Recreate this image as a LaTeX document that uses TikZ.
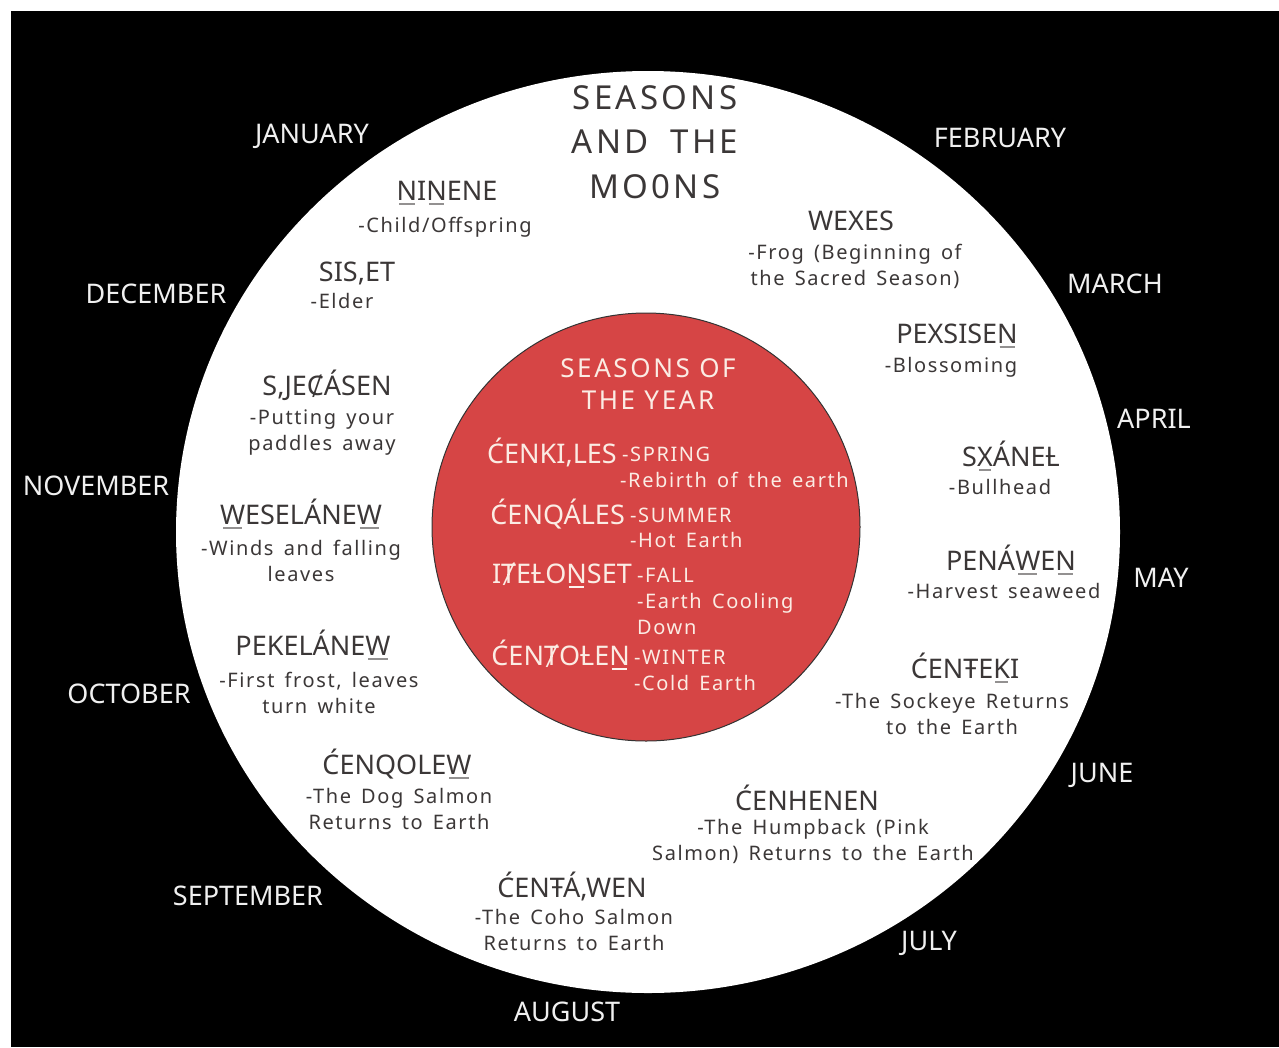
\documentclass[tikz,border=0pt]{standalone}
\usepackage{fontspec}
\setmainfont{Noto Sans}
\newfontfamily\descfont[LetterSpace=8,WordSpace=1.5]{Noto Sans}
\newfontfamily\headfont[LetterSpace=10]{Noto Sans}
\definecolor{ink}{HTML}{3B3737}
\definecolor{seasonred}{HTML}{D64545}
\definecolor{paleink}{HTML}{FBECE4}
\definecolor{monthink}{HTML}{F0F0F0}
\newsavebox\ubbox
\newcommand\ub[1]{\sbox\ubbox{#1}\rlap{\kern.12\wd\ubbox{\color{.!55!white}\rule[-5pt]{.76\wd\ubbox}{1.6pt}}}\usebox\ubbox}
\tikzset{
  month/.style={text=monthink, anchor=base, inner sep=0pt, font=\fontsize{27}{30}\selectfont},
  moon/.style={text=ink, anchor=base, inner sep=0pt, font=\fontsize{27}{30}\selectfont},
  desc/.style={text=ink, anchor=base, inner sep=0pt, align=center, font=\descfont\fontsize{20}{26}\selectfont},
  maintitle/.style={text=ink, anchor=base, inner sep=0pt, font=\headfont\fontsize{33}{44}\selectfont},
  seasontitle/.style={text=paleink, anchor=base, inner sep=0pt, align=center, font=\headfont\fontsize{26}{32}\selectfont},
  season/.style={text=paleink, anchor=base east, inner sep=0pt, font=\fontsize{27}{30}\selectfont},
  seasondesc/.style={text=paleink, anchor=base west, inner sep=0pt, align=left, font=\descfont\fontsize{20}{26}\selectfont}
}
\begin{document}
\begin{tikzpicture}[x=1pt,y=-1pt]
\useasboundingbox (0,0) rectangle (1279,1047);
\fill[white] (0,0) rectangle (1279,1047);
\fill[black] (11,11) rectangle (1279,1047);
\fill[white] (648,532) ellipse [x radius=472, y radius=461];
\filldraw[fill=seasonred, draw=black!80, line width=1pt] (646,527) circle [radius=214];

\node[maintitle] (title1) at (655,109) {SEASONS};
\node[maintitle] (title2) at (655,153) {AND\hspace{10pt} THE};
\node[maintitle] (title3) at (655,198) {MO0NS};

\foreach \m/\x/\y in {JANUARY/312/143, FEBRUARY/1000/147, MARCH/1115/293, APRIL/1154/428,
    MAY/1161/587, JUNE/1102/782, JULY/929/950, AUGUST/567/1021, SEPTEMBER/248/905,
    OCTOBER/129/703, NOVEMBER/96/495, DECEMBER/156/303}
  \node[month] (m-\m) at (\x,\y) {\m};

% moons (two-line texts sit on their last baseline)
\node[moon] (ninene) at (447,200) {\ub{N}I\ub{N}ENE};
\node[desc] (ninene-d) at (445,232) {-Child/Offspring};
\node[moon] (siset) at (357,281) {SIS,ET};
\node[desc] (siset-d) at (342,308) {-Elder};
\node[moon] (sjecasen) at (327,395) {S,JEȻÁSEN};
\node[desc] (sjecasen-d) at (322,450) {-Putting your\\paddles away};
\node[moon] (weselanew) at (301,524) {\ub{W}ESELÁNE\ub{W}};
\node[desc] (weselanew-d) at (301,581) {-Winds and falling\\leaves};
\node[moon] (pekelanew) at (313,655) {PEKELÁNE\ub{W}};
\node[desc] (pekelanew-d) at (319,713) {-First frost, leaves\\turn white};
\node[moon] (cenqolew) at (397,774) {ĆENQOLE\ub{W}};
\node[desc] (cenqolew-d) at (399,829) {-The Dog Salmon\\Returns to Earth};
\node[moon] (centawen) at (572,897) {ĆENŦÁ,WEN};
\node[desc] (centawen-d) at (574,950) {-The Coho Salmon\\Returns to Earth};
\node[moon] (cenhenen) at (807,810) {ĆENHENEN};
\node[desc] (cenhenen-d) at (813,860) {-The Humpback (Pink\\Salmon) Returns to the Earth};
\node[moon] (centeki) at (965,678) {ĆENŦE\ub{K}I};
\node[desc] (centeki-d) at (952,734) {-The Sockeye Returns\\to the Earth};
\node[moon] (penawen) at (1011,570) {PENÁ\ub{W}E\ub{N}};
\node[desc] (penawen-d) at (1004,598) {-Harvest seaweed};
\node[moon] (sxanel) at (1011,466) {S\ub{X}ÁNEȽ};
\node[desc] (sxanel-d) at (1000,494) {-Bullhead};
\node[moon] (pexsisen) at (957,343) {PEXSISE\ub{N}};
\node[desc] (pexsisen-d) at (951,372) {-Blossoming};
\node[moon] (wexes) at (851,230) {WEXES};
\node[desc] (wexes-d) at (855,285) {-Frog (Beginning of\\the Sacred Season)};

% seasons
\node[seasontitle] (seasons) at (648,409) {SEASONS OF\\THE YEAR};
\node[season] (spring) at (617,463) {ĆENKI,LES};
\node[seasondesc] (spring-n) at (622,461) {-SPRING};
\node[seasondesc] (spring-d) at (620,487) {-Rebirth of the earth};
\node[season] (summer) at (625,524) {ĆENQÁLES};
\node[seasondesc] (summer-n) at (630,522) {-SUMMER};
\node[seasondesc] (summer-d) at (630,547) {-Hot Earth};
\node[season] (fall) at (632,583) {IȾEȽO\ub{N}SET};
\node[seasondesc] (fall-n) at (637,582) {-FALL};
\node[seasondesc] (fall-d) at (637,634) {-Earth Cooling\\Down};
\node[season] (winter) at (630,665) {ĆENȾOȽE\ub{N}};
\node[seasondesc] (winter-n) at (634,664) {-WINTER};
\node[seasondesc] (winter-d) at (634,690) {-Cold Earth};
\end{tikzpicture}
\end{document}
